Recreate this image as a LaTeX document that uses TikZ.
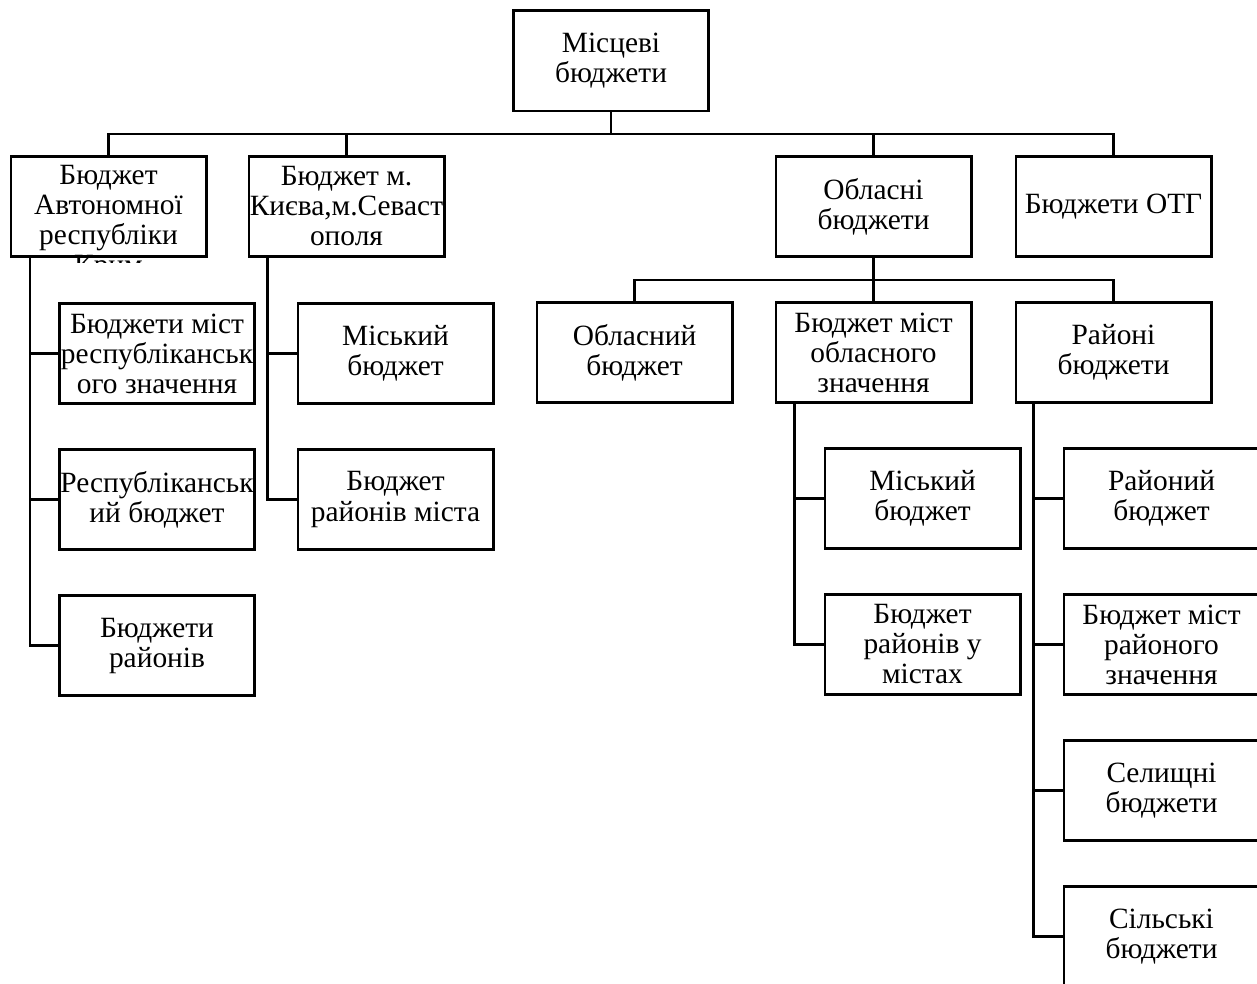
\documentclass[tikz,border=0pt]{standalone}
\usepackage{fontspec}
\setmainfont{Liberation Serif}
\usetikzlibrary{positioning}

\tikzset{budget/.style={draw, minimum width=97.6pt, minimum height=50.1pt, inner sep=0pt, align=center}}

\begin{document}
\begin{tikzpicture}[x=0.5pt, y=-0.5pt, node distance=21.5pt and 21pt, line width=1.4pt, font=\fontsize{14.7}{15}\selectfont]
		\useasboundingbox (0,0) rectangle (1257,984);
		\clip (0,0) rectangle (1257,984);
		
		\node[budget] (b0) at (611,61) {Місцеві\\бюджети};
		\node[budget] (b1) at (108.5,206.5) {};
		\node[budget, right=20pt of b1] (b2) {Бюджет м.\\Києва,м.Севаст\\ополя};
		\node[budget] (b3) at (873.5,206.5) {Обласні\\бюджети};
		\node[budget, right=of b3] (b4) {Бюджети ОТГ};
		
		% text of b1 runs over its lower edge
		\begin{scope}
		\clip (b1.north west) rectangle ([yshift=-2pt]b1.south east);
		\node[align=center, inner sep=0pt, anchor=north] (b1t) at ([yshift=-4.5pt]b1.north) {Бюджет\\Автономної\\республіки\\Крим};
		\end{scope}
		
		\node[budget, below=of b3] (b7) {Бюджет міст\\обласного\\значення};
		\node[budget, left=20.5pt of b7] (b6) {Обласний\\бюджет};
		\node[budget, right=of b7] (b8) {Районі\\бюджети};
		
		\node[budget, anchor=north west] (b9) at ([shift={(24.25pt,-22pt)}]b1.south west) {Бюджети міст\\республіканськ\\ого значення};
		\node[budget, below=of b9] (b10) {Республіканськ\\ий бюджет};
		\node[budget, below=of b10] (b11) {Бюджети\\районів};
		
		\node[budget, anchor=north west] (b12) at ([shift={(24.5pt,-22pt)}]b2.south west) {Міський\\бюджет};
		\node[budget, below=of b12] (b13) {Бюджет\\районів міста};
		
		\node[budget, anchor=north west] (b14) at ([shift={(24.5pt,-21.5pt)}]b7.south west) {Міський\\бюджет};
		\node[budget, below=of b14] (b15) {Бюджет\\районів у\\містах};
		
		\node[budget, anchor=north west] (b16) at ([shift={(24pt,-21.5pt)}]b8.south west) {Районий\\бюджет};
		\node[budget, below=of b16] (b17) {Бюджет міст\\районого\\значення};
		\node[budget, below=of b17] (b18) {Селищні\\бюджети};
		\node[budget, below=of b18] (b19) {Сільські\\бюджети};
		
		\coordinate (bus) at (0,134);
		\coordinate (bus2) at (0,280);
		\coordinate (s1) at ([xshift=10.25pt]b1.south west);
		\coordinate (s2) at ([xshift=10pt]b2.south west);
		\coordinate (s7) at ([xshift=10pt]b7.south west);
		\coordinate (s8) at ([xshift=9.5pt]b8.south west);
		
		\draw (b0.south) -- (b0.south |- bus);
		\draw (b1.north) -- (b1.north |- bus) -| (b4.north);
		\draw (b2.north) -- (b2.north |- bus);
		\draw (b3.north) -- (b3.north |- bus);
		
		\draw (b6.north) -- (b6.north |- bus2) -| (b8.north);
		\draw (b3.south) -- (b7.north);
		
		\draw (s1) |- (b11.west);
		\draw (b9.west) -- (b9.west -| s1);
		\draw (b10.west) -- (b10.west -| s1);
		
		\draw (s2) |- (b13.west);
		\draw (b12.west) -- (b12.west -| s2);
		
		\draw (s7) |- (b15.west);
		\draw (b14.west) -- (b14.west -| s7);
		
		\draw (s8) |- (b19.west);
		\draw (b16.west) -- (b16.west -| s8);
		\draw (b17.west) -- (b17.west -| s8);
		\draw (b18.west) -- (b18.west -| s8);
		
		\end{tikzpicture}
\end{document}
